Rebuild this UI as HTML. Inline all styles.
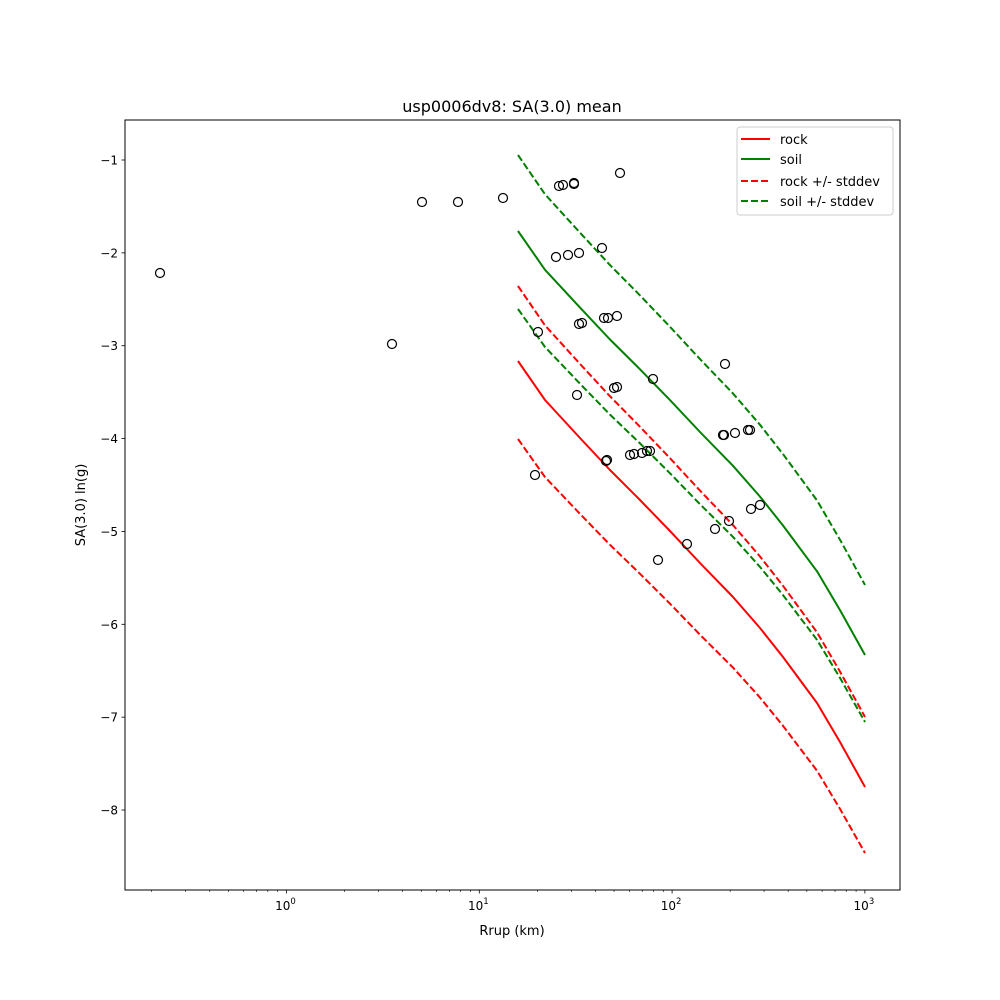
<!DOCTYPE html>
<html><head><meta charset="utf-8"><style>body{margin:0;background:#fff}svg{display:block}text{font-family:"DejaVu Sans","Liberation Sans",sans-serif;fill:#000}</style></head>
<body>
<svg id="s" width="1000" height="1000" xmlns="http://www.w3.org/2000/svg">
<rect width="1000" height="1000" fill="#fff"/>
<text x="512" y="112" font-size="16" text-anchor="middle">usp0006dv8: SA(3.0) mean</text>
<g id="ax"></g>
<g id="cv" fill="none" stroke-width="2"></g>
<g id="pts" fill="none" stroke="#000" stroke-width="1.2"></g>
<rect x="125" y="120" width="775" height="770" fill="none" stroke="#000" stroke-width="1"/>
<text x="512" y="935" font-size="13" text-anchor="middle">Rrup (km)</text>
<text transform="translate(85,505) rotate(-90)" font-size="13" text-anchor="middle">SA(3.0) ln(g)</text>
<g>
<rect x="737" y="127" width="156" height="88" fill="#fff" fill-opacity="0.8" stroke="#ccc" rx="3"/>
<line x1="741" y1="139" x2="770" y2="139" stroke="red" stroke-width="2"/>
<line x1="741" y1="159" x2="770" y2="159" stroke="green" stroke-width="2"/>
<line x1="741" y1="181" x2="770" y2="181" stroke="red" stroke-width="2" stroke-dasharray="7,3"/>
<line x1="741" y1="201" x2="770" y2="201" stroke="green" stroke-width="2" stroke-dasharray="7,3"/>
<text x="780" y="144" font-size="13">rock</text>
<text x="780" y="164" font-size="13">soil</text>
<text x="780" y="186" font-size="13">rock +/- stddev</text>
<text x="780" y="206" font-size="13">soil +/- stddev</text>
</g>
</svg>
<script>
var NS="http://www.w3.org/2000/svg";
function el(p,t,a,txt){var e=document.createElementNS(NS,t);for(var k in a)e.setAttribute(k,a[k]);if(txt!=null)e.textContent=txt;p.appendChild(e);return e;}
var ax=document.getElementById('ax');
function X(r){return 286.5+192.8*Math.log10(r);}
function Y(v){return 160+(-1-v)*92.86;}
for(var d=-1;d<=3;d++){for(var m=1;m<10;m++){var x=X(m*Math.pow(10,d));if(x<125||x>900)continue;
 el(ax,'line',{x1:x,y1:890,x2:x,y2:m==1?893.5:892,stroke:'#000','stroke-width':m==1?0.8:0.6});
 if(m==1){var t=el(ax,'text',{x:x-1,y:910,'font-size':12,'text-anchor':'middle'},'10');el(t,'tspan',{dy:-6,'font-size':8.5},String(d));}}}
for(var v=-1;v>=-8;v--){var y=Y(v);el(ax,'line',{x1:121.5,y1:y,x2:125,y2:y,stroke:'#000','stroke-width':0.8});
 el(ax,'text',{x:118,y:y+4.5,'font-size':12,'text-anchor':'end'},'\u2212'+(-v));}
var rock=[[518,361],[545,400],[580,438],[610,470],[640,500],[670,531],[700,563],[733,597],[760,628],[783,657],[817,703],[840,742],[865,787]];
function off(a,b){return rock.map(function(p){var f=(p[0]-518)/347;return [p[0],p[1]+a+(b-a)*f];});}
function path(pts,c,dash){var d='M'+pts.map(function(p){return p[0]+','+p[1].toFixed(1)}).join(' L');
 var a={d:d,stroke:c,'stroke-linejoin':'round'};if(dash)a['stroke-dasharray']='7,3';el(document.getElementById('cv'),'path',a);}
path(rock,'red');
path(off(-130,-132),'green');
path(off(-75,-70),'red',1);
path(off(78,66),'red',1);
path(off(-206,-202),'green',1);
path(off(-52,-65),'green',1);
var P=[[160,273],[392,344],[422,202],[458,202],[503,198],[538,332],[535,475],[556,257],[559,186],[563,185],[568,255],[574,183],[574,184],[579,253],[577,395],[579,324],[582,323],[602,248],[604,318],[607,460],[606,461],[608,318],[614,388],[617,316],[617,387],[620,173],[630,455],[634,454],[642,453],[647,451],[650,451],[653,379],[658,560],[687,544],[715,529],[723,435],[724,435],[725,364],[729,521],[735,433],[748,430],[750,430],[751,509],[760,505]];
P.forEach(function(p){el(document.getElementById('pts'),'circle',{cx:p[0],cy:p[1],r:4.5});});
</script>
</body></html>
